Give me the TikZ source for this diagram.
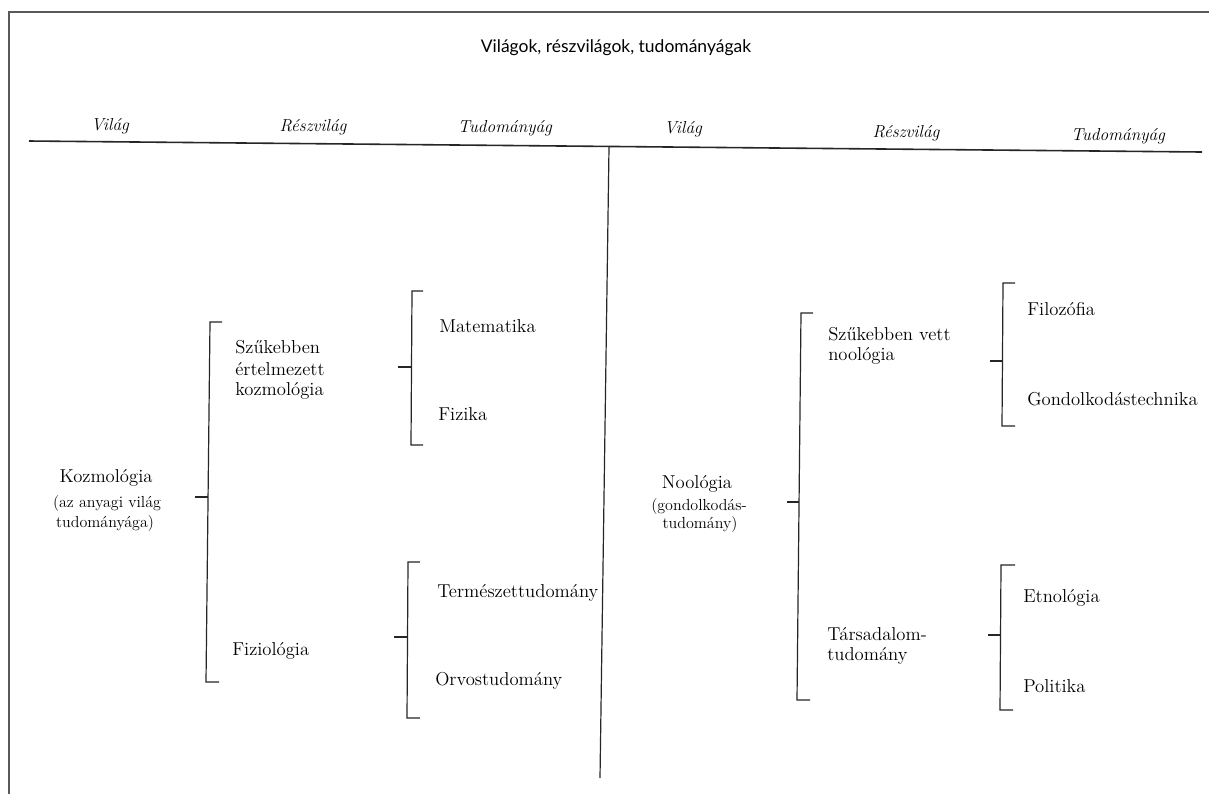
\documentclass[tikz,border=0pt]{standalone}
\usepackage{fontspec}
\newfontfamily\titlefont{Lato}
\begin{document}
\begin{tikzpicture}[x=0.75pt,y=-0.75pt,
  lbl/.style={anchor=base west,inner sep=0pt,font=\fontsize{14}{16}\selectfont},
  ctr/.style={anchor=base,inner sep=0pt,font=\fontsize{14}{16}\selectfont},
  sub/.style={anchor=base,inner sep=0pt,font=\fontsize{12}{14}\selectfont},
  head/.style={anchor=base,inner sep=0pt,font=\fontsize{13}{15}\selectfont\itshape},
  brk/.style={line width=0.9pt,black!85},
  rule/.style={line width=1.2pt,black!85}]
\useasboundingbox (0,0) rectangle (1209,794);
\fill[white] (0,0) rectangle (1209,794);
% page frame
\draw[line width=1.5pt,black!65] (9,794) -- (9,12) -- (1209,12);

% title
\node[anchor=base,inner sep=0pt,font=\titlefont\fontsize{13.1}{15}\selectfont] (title) at (616,52) {Világok, részvilágok, tudományágak};

% column heads
\node[head] (h1) at (110,130) {Világ};
\node[head] (h2) at (313,131) {Részvilág};
\node[head] (h3) at (505,132) {Tudományág};
\node[head] (h4) at (683,133) {Világ};
\node[head] (h5) at (906,137) {Részvilág};
\node[head] (h6) at (1118,140) {Tudományág};

% head rule and column divider
\coordinate (rl) at (29,141);
\coordinate (rr) at (1202,152);
\draw[rule] (rl) -- (rr);
\coordinate (dt) at (609,147);
\coordinate (db) at (600,778);
\draw[brk] (dt) -- (db);

% left half
\node[ctr] (koz) at (106,482) {Kozmológia};
\node[sub] (koz2) at (107,507) {(az anyagi világ};
\node[sub] (koz3) at (105,527) {tudományága)};

\node[lbl] (szk1) at (235,353) {Szűkebben};
\node[lbl] (szk2) at (235,375) {értelmezett};
\node[lbl] (szk3) at (235,395) {kozmológia};
\node[lbl] (fiz) at (232,655) {Fiziológia};

\node[lbl] (mat) at (439,332) {Matematika};
\node[lbl] (fik) at (438,420) {Fizika};
\node[lbl] (ter) at (437,597) {Természettudomány};
\node[lbl] (orv) at (435,685) {Orvostudomány};

% right half
\node[ctr] (noo) at (697,488) {Noológia};
\node[sub] (noo2) at (699,510) {(gondolkodás-};
\node[sub] (noo3) at (700,528) {tudomány)};

\node[lbl] (szn1) at (828,340) {Szűkebben vett};
\node[lbl] (szn2) at (828,360) {noológia};
\node[lbl] (tar1) at (827,640) {Társadalom-};
\node[lbl] (tar2) at (827,660) {tudomány};

\node[lbl] (fil) at (1027,315) {Filozófia};
\node[lbl] (gon) at (1027,405) {Gondolkodástechnika};
\node[lbl] (etn) at (1023,602) {Etnológia};
\node[lbl] (pol) at (1023,692) {Politika};

% brackets: top end, bottom end and the stem tick
\coordinate (b1a) at (222,322); \coordinate (b1b) at (210,322);
\coordinate (b1c) at (206,682); \coordinate (b1d) at (219,682);
\coordinate (b1e) at (195,497); \coordinate (b1f) at (208,497);
\draw[brk] (b1a) -- (b1b) -- (b1c) -- (b1d);
\draw[brk] (b1e) -- (b1f);

\coordinate (b2a) at (423,291); \coordinate (b2b) at (412,291);
\coordinate (b2c) at (411,445); \coordinate (b2d) at (423,445);
\coordinate (b2e) at (398,367); \coordinate (b2f) at (411,367);
\draw[brk] (b2a) -- (b2b) -- (b2c) -- (b2d);
\draw[brk] (b2e) -- (b2f);

\coordinate (b3a) at (420,562); \coordinate (b3b) at (408,562);
\coordinate (b3c) at (407,718); \coordinate (b3d) at (420,718);
\coordinate (b3e) at (394,637); \coordinate (b3f) at (407,637);
\draw[brk] (b3a) -- (b3b) -- (b3c) -- (b3d);
\draw[brk] (b3e) -- (b3f);

\coordinate (b4a) at (813,313); \coordinate (b4b) at (801,313);
\coordinate (b4c) at (797,700); \coordinate (b4d) at (810,700);
\coordinate (b4e) at (787,502); \coordinate (b4f) at (799,502);
\draw[brk] (b4a) -- (b4b) -- (b4c) -- (b4d);
\draw[brk] (b4e) -- (b4f);

\coordinate (b5a) at (1015,283); \coordinate (b5b) at (1003,283);
\coordinate (b5c) at (1002,426); \coordinate (b5d) at (1015,426);
\coordinate (b5e) at (990,361); \coordinate (b5f) at (1002,361);
\draw[brk] (b5a) -- (b5b) -- (b5c) -- (b5d);
\draw[brk] (b5e) -- (b5f);

\coordinate (b6a) at (1015,565); \coordinate (b6b) at (1001,565);
\coordinate (b6c) at (1000,710); \coordinate (b6d) at (1013,710);
\coordinate (b6e) at (988,635); \coordinate (b6f) at (1000,635);
\draw[brk] (b6a) -- (b6b) -- (b6c) -- (b6d);
\draw[brk] (b6e) -- (b6f);
\end{tikzpicture}
\end{document}
